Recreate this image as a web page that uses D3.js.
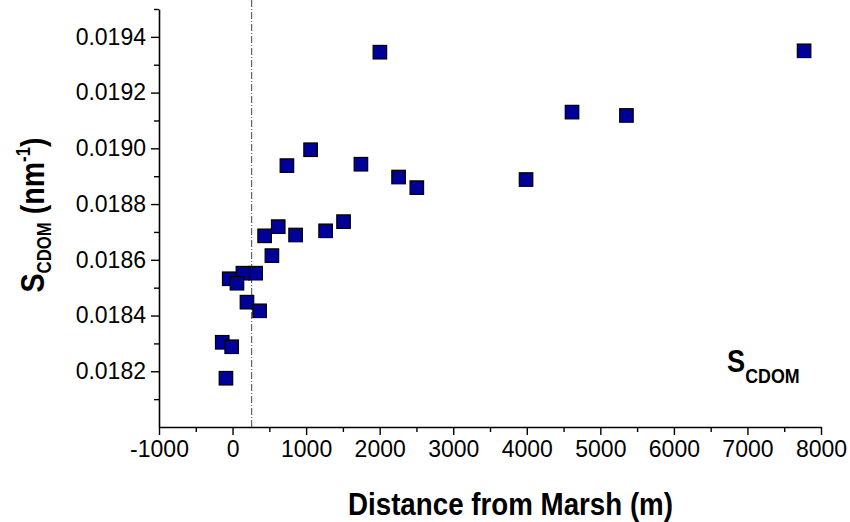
<!DOCTYPE html>
<html>
<head>
<meta charset="utf-8">
<script src="https://cdn.jsdelivr.net/npm/d3@7"></script>
<style>
  body { margin: 0; background: #fff; }
  svg { display: block; font-family: "Liberation Sans", Arial, sans-serif; }
</style>
</head>
<body>
<div id="chart"></div>
<script>
// Distance from marsh (m) and S_CDOM (nm^-1)
const distance = [2003, 1061, 739, 1745, 2257, 2505, 1509, 1265, 621, 436, 857, 535,
                  314, 141, -45, 60, 196, 368, -140, -12, -90, 7770, 4615, 5355, 3990];
const scdom = [0.019345, 0.018995, 0.018938, 0.018943, 0.018897, 0.018859, 0.018737,
               0.018704, 0.018719, 0.018686, 0.018689, 0.018615, 0.018552, 0.018552,
               0.018532, 0.018516, 0.018448, 0.018417, 0.018304, 0.018288, 0.018175,
               0.019350, 0.019130, 0.019118, 0.018888];
const marshEdge = 260;   // dash-dot reference line
const xMajor = [-1000, 0, 1000, 2000, 3000, 4000, 5000, 6000, 7000, 8000];
const xMinor = [-500, 500, 1500, 2500, 3500, 4500, 5500, 6500, 7500];
const yMajor = [0.0182, 0.0184, 0.0186, 0.0188, 0.0190, 0.0192, 0.0194];
const yMinor = [0.0181, 0.0183, 0.0185, 0.0187, 0.0189, 0.0191, 0.0193, 0.0195];

const width = 850, height = 522;
const plotLeft = 159, plotRight = 821, plotTop = 9, plotBottom = 427;

const svg = d3.select("#chart").append("svg")
    .attr("width", width)
    .attr("height", height);

const x = d3.scaleLinear().domain([-1000, 8000]).range([plotLeft, plotRight]);
const y = d3.scaleLinear().domain([0.0180, 0.0195]).range([plotBottom, plotTop]);

// dash-dot line at the marsh edge
svg.append("line")
    .attr("x1", x(marshEdge)).attr("x2", x(marshEdge))
    .attr("y1", 0).attr("y2", plotBottom)
    .attr("stroke", "#444")
    .attr("stroke-width", 1)
    .attr("stroke-dasharray", "7,2,1,2");

// x axis: major + minor ticks
const gx = svg.append("g").attr("transform", `translate(0,${plotBottom})`);
gx.call(d3.axisBottom(x).tickValues(xMajor).tickSize(8).tickPadding(6)
    .tickFormat(d => String(d)).tickSizeOuter(0));
gx.append("g").call(d3.axisBottom(x).tickValues(xMinor).tickSize(5)
    .tickFormat("").tickSizeOuter(0))
  .select(".domain").remove();

// y axis
const gy = svg.append("g").attr("transform", `translate(${plotLeft},0)`);
gy.call(d3.axisLeft(y).tickValues(yMajor).tickSize(8).tickPadding(5)
    .tickFormat(d3.format(".4f")).tickSizeOuter(0));
gy.append("g").call(d3.axisLeft(y).tickValues(yMinor).tickSize(5)
    .tickFormat("").tickSizeOuter(0))
  .select(".domain").remove();

svg.selectAll(".domain").attr("stroke", "#000").attr("stroke-width", 1.6);
svg.selectAll(".tick line").attr("stroke", "#000").attr("stroke-width", 1.4);
svg.selectAll(".tick text")
    .attr("font-family", "'Liberation Sans', Arial, sans-serif")
    .attr("font-size", 23)
    .attr("fill", "#000");

// markers
const size = 13.5;
svg.append("g").selectAll("rect")
    .data(distance.map((d, i) => [d, scdom[i]]))
    .join("rect")
    .attr("x", d => x(d[0]) - size / 2)
    .attr("y", d => y(d[1]) - size / 2)
    .attr("width", size)
    .attr("height", size)
    .attr("fill", "#000099")
    .attr("stroke", "#000")
    .attr("stroke-width", 1.2);

// x title
svg.append("text")
    .attr("x", 348)
    .attr("y", 515)
    .attr("font-size", 32)
    .attr("font-weight", "bold")
    .attr("textLength", 325)
    .attr("lengthAdjust", "spacingAndGlyphs")
    .text("Distance from Marsh (m)");

// y title
const yt = svg.append("text")
    .attr("transform", "translate(44,215) rotate(-90) scale(0.84,1)")
    .attr("text-anchor", "middle")
    .attr("font-weight", "bold")
    .attr("font-size", 34);
yt.append("tspan").text("S");
yt.append("tspan").attr("font-size", 20).attr("dy", 7).text("CDOM");
yt.append("tspan").attr("dy", -7).text(" (nm");
yt.append("tspan").attr("font-size", 20).attr("dy", -14).text("-1");
yt.append("tspan").attr("dy", 14).text(")");

// in-plot label
const lab = svg.append("text")
    .attr("transform", "translate(727,372) scale(0.85,1)")
    .attr("font-weight", "bold")
    .attr("font-size", 32);
lab.append("tspan").text("S");
lab.append("tspan").attr("font-size", 21).attr("dy", 11).text("CDOM");
</script>
</body>
</html>
